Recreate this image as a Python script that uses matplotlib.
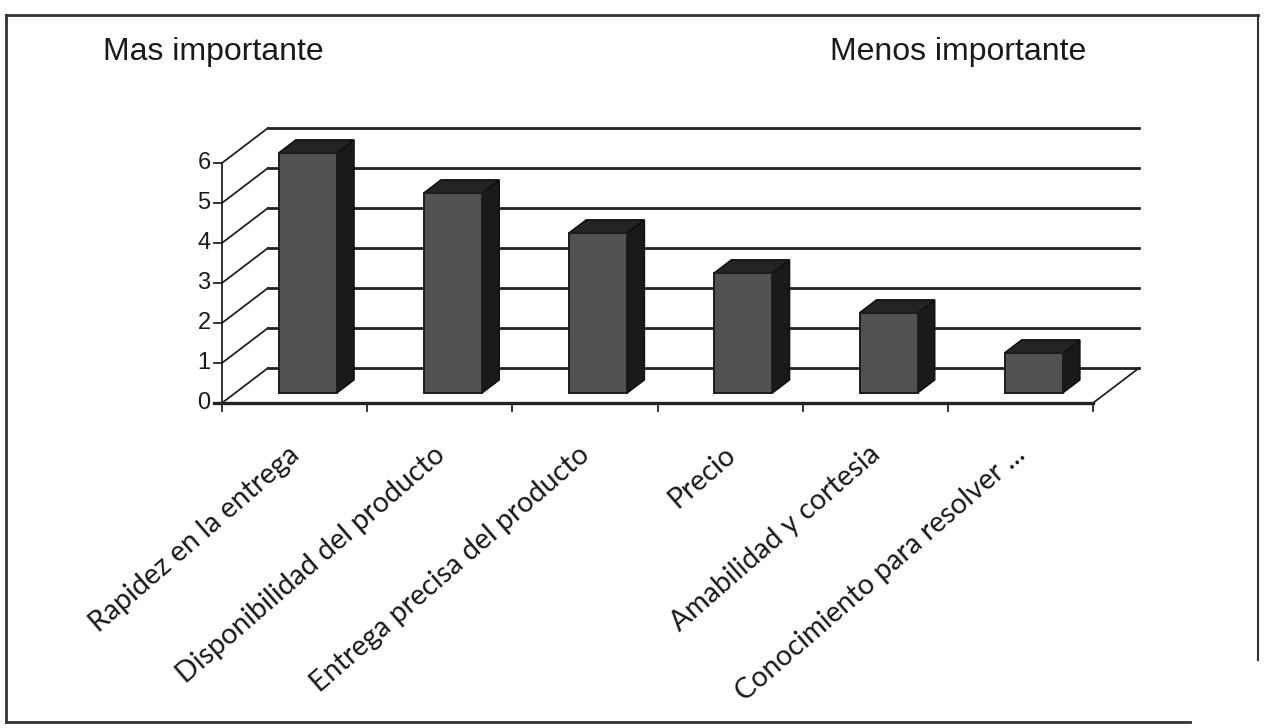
import matplotlib
matplotlib.use("Agg")
import matplotlib.pyplot as plt
from matplotlib.patches import Polygon
from matplotlib.lines import Line2D

# ---- data ----
categories = ["Rapidez en la entrega", "Disponibilidad del producto",
              "Entrega precisa del producto", "Precio",
              "Amabilidad y cortesia", "Conocimiento para resolver ..."]
values = [6, 5, 4, 3, 2, 1]
yticks = [0, 1, 2, 3, 4, 5, 6]
title_left = "Mas importante"
title_right = "Menos importante"

W, H = 1268, 728
fig = plt.figure(figsize=(W / 100, H / 100), dpi=100)
fig.patch.set_facecolor("white")

# axes covering the figure; data units: x = category, y = value
sx, sy = 145.17, 40.0          # pixels per unit
ox, oy = 222.0, H - 403.0      # pixel location of (0, 0)
ax = fig.add_axes([0, 0, 1, 1])
ax.set_xlim(-ox / sx, (W - ox) / sx)
ax.set_ylim(-oy / sy, (H - oy) / sy)
ax.axis("off")

# oblique depth vector (full depth) in data units
DX, DY = 46 / sx, 35 / sy
def P(x, y, d):
    return (x + d * DX, y + d * DY)

n = len(categories)
ymax = max(yticks)
gcol = "#222222"
lw = 2.0

# back wall gridlines and left wall diagonals
for v in yticks:
    a, b = P(0, v, 1), P(n, v, 1)
    ax.add_line(Line2D([a[0], b[0]], [a[1], b[1]], color=gcol, lw=lw, zorder=1))
    a, b = P(0, v, 0), P(0, v, 1)
    ax.add_line(Line2D([a[0], b[0]], [a[1], b[1]], color=gcol, lw=1.3, zorder=1))
    # y tick mark
    ax.add_line(Line2D([-8 / sx, 0], [v, v], color=gcol, lw=1.3, zorder=1))
    ax.text(-18 / sx, v, str(v), ha="center", va="center",
            fontsize=17, family="Liberation Sans", color="#1a1a1a")

# front y axis
ax.add_line(Line2D([0, 0], [0, ymax], color=gcol, lw=1.3, zorder=1))
# floor front edge and right diagonal
ax.add_line(Line2D([-8 / sx, n], [0, 0], color=gcol, lw=2.4, zorder=1))
a, b = P(n, 0, 0), P(n, 0, 1)
ax.add_line(Line2D([a[0], b[0]], [a[1], b[1]], color=gcol, lw=1.3, zorder=1))
# category ticks
for k in range(n + 1):
    ax.add_line(Line2D([k, k], [0, -8 / sy], color=gcol, lw=1.3, zorder=1))

# bars
x0f, x1f = 0.30, 0.70
d0, d1 = 0.29, 0.66
for i, v in enumerate(values):
    xl, xr = i + x0f, i + x1f
    front = [P(xl, 0, d0), P(xr, 0, d0), P(xr, v, d0), P(xl, v, d0)]
    side = [P(xr, 0, d0), P(xr, 0, d1), P(xr, v, d1), P(xr, v, d0)]
    top = [P(xl, v, d0), P(xr, v, d0), P(xr, v, d1), P(xl, v, d1)]
    ax.add_patch(Polygon(side, closed=True, fc="#1a1a1a", ec="#111111", lw=1.2, zorder=3))
    ax.add_patch(Polygon(top, closed=True, fc="#242424", ec="#111111", lw=1.2, zorder=3))
    ax.add_patch(Polygon(front, closed=True, fc="#525252", ec="#1c1c1c", lw=1.4, zorder=4))

# category labels
for i, c in enumerate(categories):
    ax.text(i + 0.51, -1.2, c, rotation=41, rotation_mode="anchor",
            ha="right", va="center", fontsize=20.5, family="Lato", color="#1a1a1a")

# titles
fig.text(103 / W, 1 - 52 / H, title_left, ha="left", va="center",
         fontsize=23, family="Liberation Sans", color="#1a1a1a")
fig.text(830 / W, 1 - 52 / H, title_right, ha="left", va="center",
         fontsize=23, family="Liberation Sans", color="#1a1a1a")

# outer frame (partial, as in scan)
fc = "#333333"
fig.add_artist(Line2D([6 / W, 6 / W], [1 - 15 / H, 1 - 722 / H], transform=fig.transFigure, color=fc, lw=2))
fig.add_artist(Line2D([6 / W, 1258 / W], [1 - 15 / H, 1 - 15 / H], transform=fig.transFigure, color=fc, lw=2))
fig.add_artist(Line2D([1258 / W, 1258 / W], [1 - 15 / H, 1 - 660 / H], transform=fig.transFigure, color=fc, lw=1.5))
fig.add_artist(Line2D([6 / W, 1190 / W], [1 - 722 / H, 1 - 722 / H], transform=fig.transFigure, color=fc, lw=2))

fig.savefig("out.png", dpi=100, facecolor="white")
